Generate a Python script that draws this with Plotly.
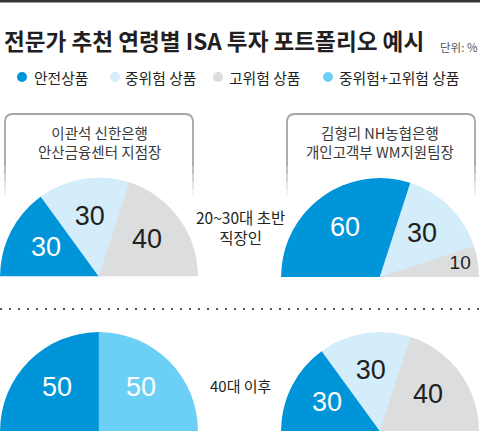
import plotly.graph_objects as go
import numpy as np

# ---------------- data ----------------
title_text = "전문가 추천 연령별 ISA 투자 포트폴리오 예시"
unit_text = "단위: %"
legend_categories = ["안전상품", "중위험 상품", "고위험 상품", "중위험+고위험 상품"]

experts = ["이관석 신한은행<br>안산금융센터 지점장", "김형리 NH농협은행<br>개인고객부 WM지원팀장"]
age_groups = ["20~30대 초반<br>직장인", "40대 이후"]

cats_three = ["안전상품", "중위험 상품", "고위험 상품"]
cats_two = ["안전상품", "중위험+고위험 상품"]

young_shinhan = [30, 30, 40]
young_nh = [60, 30, 10]
older_shinhan = [50, 50]
older_nh = [30, 30, 40]

# ---------------- styles ----------------
W, H = 480, 431
COL = {
    "안전상품": "#0094D8",
    "중위험 상품": "#D3EDFA",
    "고위험 상품": "#DCDDDE",
    "중위험+고위험 상품": "#6CCFF6",
}
TXT_COL = {
    "안전상품": "#FFFFFF",
    "중위험 상품": "#231F20",
    "고위험 상품": "#231F20",
    "중위험+고위험 상품": "#FFFFFF",
}
KR = "Noto Sans CJK KR, Noto Sans, sans-serif"
NUM = "Liberation Sans, Arial, sans-serif"
DARK = "#231F20"
NONE = "rgba(0,0,0,0)"


def X(px):
    return px / W


def Y(py):
    return 1 - py / H


fig = go.Figure()

pies = [
    ("polar", young_shinhan, cats_three, (0, 198), (177, 277)),
    ("polar2", young_nh, cats_three, (281, 479), (178, 277)),
    ("polar3", older_shinhan, cats_two, (0, 198), (332, 431)),
    ("polar4", older_nh, cats_three, (281, 479), (332, 431)),
]

layout_polars = {}
for sub, vals, cats, (x0, x1), (y0, y1) in pies:
    vals = np.array(vals, dtype=float)
    widths = vals / vals.sum() * 180.0
    ends = np.cumsum(widths)
    centers = ends - widths / 2
    cols = [COL[c] for c in cats]
    fig.add_trace(go.Barpolar(
        r=[1] * len(vals), theta=centers, width=widths,
        marker=dict(color=cols, line=dict(color=cols, width=0.5)),
        hoverinfo="skip", subplot=sub, showlegend=False,
    ))
    small = vals < 15
    label_r = [0.82 if s else 0.6 for s in small]
    fig.add_trace(go.Scatterpolar(
        r=label_r, theta=centers, mode="text",
        text=[f"{int(v)}" for v in vals],
        textfont=dict(family=NUM, size=[19 if s else 27 for s in small],
                      color=[TXT_COL[c] for c in cats]),
        hoverinfo="skip", subplot=sub, showlegend=False, cliponaxis=False,
    ))
    layout_polars[sub] = dict(
        domain=dict(x=[X(x0), X(x1)], y=[Y(y1), Y(y0)]),
        sector=[0, 180], hole=0, bgcolor=NONE, bargap=0,
        angularaxis=dict(visible=False, direction="clockwise", rotation=180,
                         showgrid=False, showline=False, ticks="",
                         linecolor=NONE, gridcolor=NONE, showticklabels=False),
        radialaxis=dict(visible=False, range=[0, 1], showgrid=False,
                        showline=False, ticks="", linecolor=NONE,
                        gridcolor=NONE, showticklabels=False),
    )

fig.update_layout(**layout_polars)

annotations = []
shapes = []

# top border
shapes.append(dict(type="rect", xref="paper", yref="paper",
                   x0=0, x1=1, y0=Y(2.6), y1=Y(0), fillcolor="#333333",
                   line=dict(width=0), layer="above"))

# title
annotations.append(dict(text=f"<b>{title_text}</b>", x=X(2), y=Y(41), xanchor="left",
                        yanchor="middle", showarrow=False,
                        font=dict(family=KR, size=22.6, color=DARK)))
annotations.append(dict(text=unit_text, x=X(480), y=Y(47), xanchor="right",
                        yanchor="middle", showarrow=False,
                        font=dict(family=KR, size=11.5, color="#555555")))

# legend
leg_pos = [(22, 32), (115, 123), (218, 227), (328, 337)]
for cat, (cx, tx) in zip(legend_categories, leg_pos):
    shapes.append(dict(type="circle", xref="paper", yref="paper",
                       x0=X(cx - 5), x1=X(cx + 5), y0=Y(82), y1=Y(72),
                       fillcolor=COL[cat], line=dict(width=0)))
    annotations.append(dict(text=cat, x=X(tx), y=Y(77), xanchor="left", yanchor="middle",
                            showarrow=False, font=dict(family=KR, size=14.8, color=DARK)))


# expert boxes
def box(x0, x1, top=114, bottom=166, rad=8):
    def P(x, y):
        return f"{X(x):.5f},{Y(y):.5f}"
    return (f"M {P(x0, bottom)} L {P(x0, top + rad)} Q {P(x0, top)} {P(x0 + rad, top)} "
            f"L {P(x1 - rad, top)} Q {P(x1, top)} {P(x1, top + rad)} L {P(x1, bottom)}")


for (bx0, bx1) in [(5, 193), (287, 475)]:
    shapes.append(dict(type="path", xref="paper", yref="paper", path=box(bx0, bx1),
                       line=dict(color="#A3A5A8", width=1.8), layer="below"))
    for sy0, sy1, op in [(166, 174, 0.75), (174, 182, 0.5), (182, 190, 0.28), (190, 196, 0.12)]:
        for sx in (bx0, bx1):
            shapes.append(dict(type="line", xref="paper", yref="paper",
                               x0=X(sx), x1=X(sx), y0=Y(sy0), y1=Y(sy1),
                               line=dict(color="#A3A5A8", width=1.8), opacity=op, layer="below"))

for txt, cx in zip(experts, [99, 380]):
    annotations.append(dict(text=txt, x=X(cx), y=Y(142), xanchor="center", yanchor="middle",
                            showarrow=False, align="center",
                            font=dict(family=KR, size=14.5, color="#3A3A3A")))

# age group labels
annotations.append(dict(text=age_groups[0], x=X(240), y=Y(227), xanchor="center",
                        yanchor="middle", showarrow=False, align="center",
                        font=dict(family=KR, size=15.5, color=DARK)))
annotations.append(dict(text=age_groups[1], x=X(241), y=Y(385), xanchor="center",
                        yanchor="middle", showarrow=False,
                        font=dict(family=KR, size=15, color=DARK)))

# dotted separator
shapes.append(dict(type="line", xref="paper", yref="paper", x0=0, x1=1,
                   y0=Y(309), y1=Y(309),
                   line=dict(color="#555555", width=2, dash="2px,7px")))

fig.update_layout(
    width=W, height=H, margin=dict(l=0, r=0, t=0, b=0),
    paper_bgcolor="white", plot_bgcolor="white",
    annotations=annotations, shapes=shapes, showlegend=False,
)

fig.write_html("out.html", config={"displayModeBar": False, "staticPlot": True})
